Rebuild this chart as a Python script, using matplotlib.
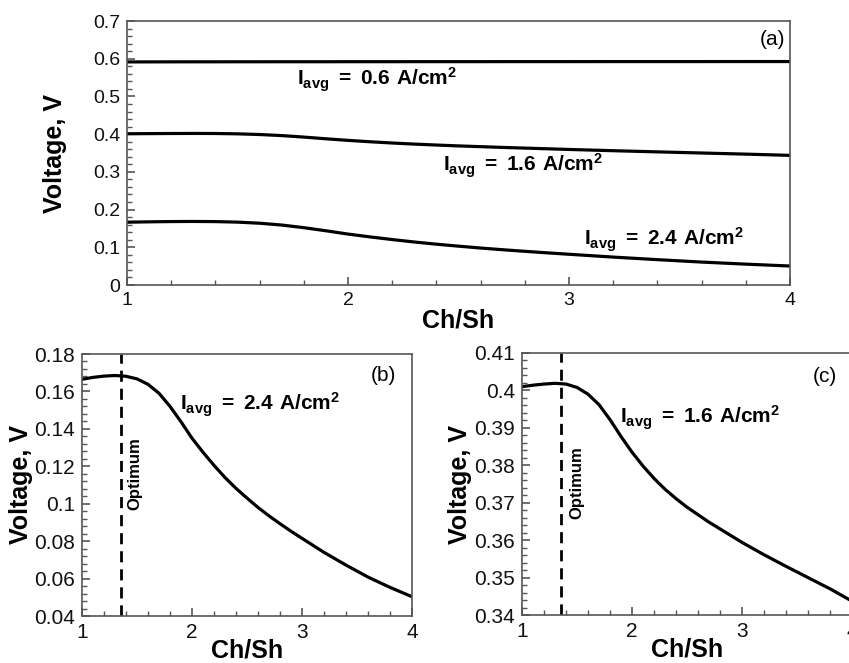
import matplotlib.pyplot as plt
from matplotlib.ticker import MultipleLocator, FormatStrFormatter, FuncFormatter

plt.rcParams['font.family'] = ['Liberation Sans', 'DejaVu Sans']
plt.rcParams['mathtext.fontset'] = 'custom'
plt.rcParams['mathtext.rm'] = 'Liberation Sans'
plt.rcParams['mathtext.bf'] = 'Liberation Sans:bold'

# channel-to-shoulder ratio and cell voltage for each average current density
ch_sh = [1.0, 1.1, 1.2, 1.3, 1.4, 1.5, 1.6, 1.7, 1.8, 1.9, 2.0, 2.1, 2.2, 2.3,
         2.4, 2.5, 2.6, 2.7, 2.8, 2.9, 3.0, 3.2, 3.4, 3.6, 3.8, 4.0]
v_06 = [0.5915, 0.5916, 0.5917, 0.5918, 0.5918, 0.5919, 0.5919, 0.5920, 0.5920,
        0.5920, 0.5921, 0.5921, 0.5921, 0.5922, 0.5922, 0.5922, 0.5922, 0.5923,
        0.5923, 0.5923, 0.5923, 0.5924, 0.5924, 0.5924, 0.5925, 0.5925]
v_16 = [0.4010, 0.4014, 0.4017, 0.4019, 0.4017, 0.4008, 0.3990, 0.3962, 0.3922,
        0.3877, 0.3835, 0.3798, 0.3765, 0.3736, 0.3711, 0.3688, 0.3668, 0.3648,
        0.3630, 0.3612, 0.3594, 0.3561, 0.3530, 0.3500, 0.3470, 0.3437]
v_24 = [0.1665, 0.1675, 0.1682, 0.1685, 0.1681, 0.1667, 0.1638, 0.1590, 0.1520,
        0.1438, 0.1350, 0.1275, 0.1205, 0.1140, 0.1082, 0.1030, 0.0980, 0.0935,
        0.0893, 0.0853, 0.0815, 0.0740, 0.0672, 0.0608, 0.0553, 0.0503]
optimum = 1.35

W, H = 849, 663
fig = plt.figure(figsize=(W / 100, H / 100), dpi=100)


def box(x0, y0, x1, y1):
    # pixel box (top-left origin) -> figure fraction
    return [x0 / W, 1 - y1 / H, (x1 - x0) / W, (y1 - y0) / H]


ax_a = fig.add_axes(box(127, 21, 790, 285))
ax_b = fig.add_axes(box(82, 354, 412, 616))
ax_c = fig.add_axes(box(522, 353, 852, 615))

spine_col = '#555555'
gfmt = FuncFormatter(lambda v, p: '%g' % round(v, 4))


def style(ax, ymajor, yminor, label_x, xlabel_y, tsize):
    for s in ax.spines.values():
        s.set_color(spine_col)
        s.set_linewidth(1.2)
    ax.set_xlim(1, 4)
    ax.xaxis.set_major_locator(MultipleLocator(1))
    ax.xaxis.set_minor_locator(MultipleLocator(0.2))
    ax.yaxis.set_major_locator(MultipleLocator(ymajor))
    ax.yaxis.set_minor_locator(MultipleLocator(yminor))
    ax.xaxis.set_major_formatter(FormatStrFormatter('%d'))
    ax.yaxis.set_major_formatter(gfmt)
    ax.tick_params(which='both', direction='in', color=spine_col,
                   top=False, right=False, labelsize=tsize, labelcolor='#111111')
    ax.tick_params(which='major', length=6, width=1.2, pad=5)
    ax.tick_params(which='minor', length=3.5, width=1.0)
    ax.set_xlabel('Ch/Sh', fontsize=18, fontweight='bold')
    ax.set_ylabel('Voltage, V', fontsize=18, fontweight='bold')
    ax.yaxis.set_label_coords(label_x, 0.5)
    ax.xaxis.set_label_coords(0.5, xlabel_y)


def iavg(val):
    return r'$\mathbf{I_{avg}\;=\;%s\ A/cm^2}$' % val


lw = 2.3

# (a) all three current densities
ax_a.plot(ch_sh, v_06, color='black', lw=lw)
ax_a.plot(ch_sh, v_16, color='black', lw=lw)
ax_a.plot(ch_sh, v_24, color='black', lw=lw)
ax_a.set_ylim(0, 0.7)
style(ax_a, 0.1, 0.02, -0.09, -0.09, 14)
ax_a.text(1.77, 0.545, iavg('0.6'), fontsize=15, va='center')
ax_a.text(2.43, 0.316, iavg('1.6'), fontsize=15, va='center')
ax_a.text(3.07, 0.12, iavg('2.4'), fontsize=15, va='center')
ax_a.text(3.92, 0.65, '(a)', fontsize=15, ha='center', va='center')

# (b) 2.4 A/cm2 with optimum ratio
ax_b.plot(ch_sh, v_24, color='black', lw=lw)
ax_b.axvline(optimum, color='black', lw=2, ls=(0, (4, 2.5)))
ax_b.set_ylim(0.04, 0.18)
style(ax_b, 0.02, 0.004, -0.148, -0.085, 15)
ax_b.text(1.89, 0.153, iavg('2.4'), fontsize=15, va='center')
ax_b.text(1.48, 0.116, 'Optimum', fontsize=12, fontweight='bold', rotation=90,
          ha='center', va='center')
ax_b.text(3.74, 0.1685, '(b)', fontsize=15, ha='center', va='center')

# (c) 1.6 A/cm2 with optimum ratio
ax_c.plot(ch_sh, v_16, color='black', lw=lw)
ax_c.axvline(optimum, color='black', lw=2, ls=(0, (4, 2.5)))
ax_c.set_ylim(0.34, 0.41)
style(ax_c, 0.01, 0.002, -0.152, -0.085, 15)
ax_c.text(1.89, 0.3926, iavg('1.6'), fontsize=15, va='center')
ax_c.text(1.5, 0.3755, 'Optimum', fontsize=12, fontweight='bold', rotation=90,
          ha='center', va='center')
ax_c.text(3.75, 0.4036, '(c)', fontsize=15, ha='center', va='center')

fig.savefig('out.png', dpi=100)
